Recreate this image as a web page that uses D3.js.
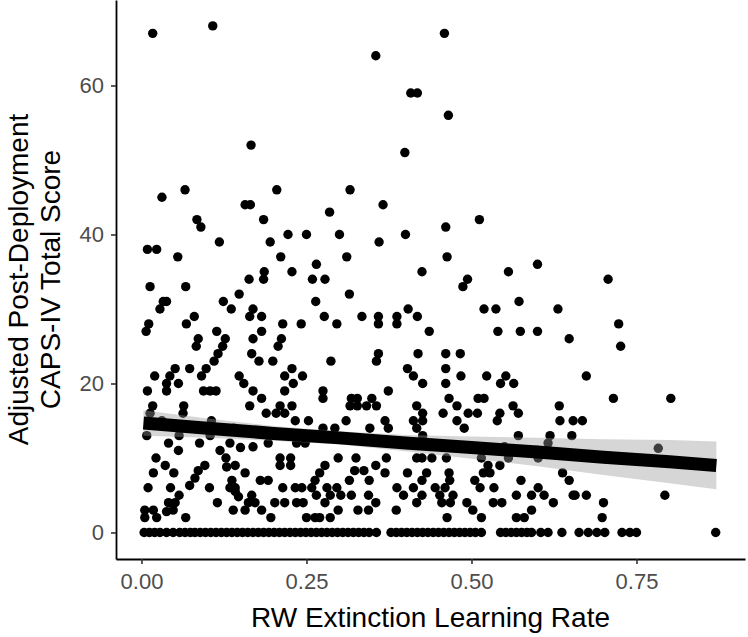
<!DOCTYPE html>
<html>
<head>
<meta charset="utf-8">
<script src="https://cdn.jsdelivr.net/npm/d3@7"></script>
<style>
    body { margin: 0; background: #fff; }
    text { font-family: "Liberation Sans", Arial, Helvetica, sans-serif; }
</style>
</head>
<body>
<svg width="748" height="637"></svg>
<script>
// tick values
const xTicks = [0, 0.25, 0.5, 0.75]
const yTicks = [0, 20, 40, 60]

// subjects with a score of exactly 0 (extinction learning rate only)
const zeroScoreRates = [0.004, 0.012, 0.020, 0.028, 0.038, 0.048, 0.058, 0.066, 0.074, 0.081, 0.089, 0.097, 0.105,
    0.113, 0.121, 0.129, 0.137, 0.145, 0.153, 0.161, 0.169, 0.177, 0.185, 0.193, 0.201, 0.209,
    0.217, 0.225, 0.233, 0.241, 0.249, 0.257, 0.265, 0.273, 0.281, 0.289, 0.297, 0.305, 0.313,
    0.321, 0.329, 0.337, 0.345, 0.356, 0.378, 0.386, 0.394, 0.402, 0.410, 0.418, 0.426, 0.434,
    0.442, 0.450, 0.458, 0.466, 0.474, 0.482, 0.490, 0.498, 0.506, 0.515, 0.544, 0.552, 0.560,
    0.568, 0.576, 0.584, 0.591, 0.605, 0.616, 0.637, 0.663, 0.677, 0.690, 0.702, 0.728, 0.740,
    0.750, 0.870]

// [learning rate, adjusted CAPS-IV score]
const scoredPoints = [
    [0.017,67],[0.108,68],[0.459,67],[0.355,64],[0.408,59],[0.418,59],[0.465,56],[0.166,52],[0.399,51],
    [0.066,46],[0.205,46],[0.316,46],[0.031,45],
    [0.157,44],[0.165,44],[0.366,44],[0.285,43],[0.084,42],[0.090,41],[0.185,42],[0.009,38],[0.023,38],
    [0.118,39],[0.195,39],[0.222,40],[0.250,40],[0.300,40],[0.360,39],[0.400,40],[0.055,37],[0.211,37],
    [0.311,37],[0.265,36],[0.186,35],[0.185,34],[0.163,34],[0.228,35],[0.259,34],[0.278,34],[0.425,35],
    [0.013,33],[0.067,33],[0.148,32],[0.315,32],[0.033,31],[0.038,31],[0.028,30],[0.124,31],[0.136,30],
    [0.169,30],[0.164,29],[0.182,29],[0.264,31],[0.277,29],[0.080,29],[0.068,28],[0.011,28],[0.007,27],
    [0.114,27],[0.182,27],[0.214,28],[0.242,28],[0.296,28],[0.334,29],[0.359,29],[0.359,28],[0.387,29],
    [0.387,28],[0.404,30],[0.418,29],[0.436,27],
    [0.461,41],[0.512,42],[0.463,37],[0.556,35],[0.600,36],[0.494,34],[0.487,33],[0.707,34],[0.572,31],
    [0.519,30],[0.537,30],[0.631,30],[0.723,28],[0.540,27],[0.574,27],[0.600,27],
    [0.086,26],[0.083,25],[0.127,26],[0.123,25],[0.116,24],[0.110,23],[0.169,26],[0.167,24],[0.178,23],
    [0.073,22],[0.098,22],[0.091,21],[0.020,21],[0.051,22],[0.043,21],[0.038,20],[0.056,20],[0.038,19],
    [0.009,19],[0.094,19],[0.104,19],[0.113,19],[0.148,21],[0.155,20],[0.169,19],[0.182,18],[0.164,17],
    [0.017,17],[0.013,16],[0.064,17],[0.063,16],[0.189,16],[0.106,15],[0.031,15],[0.008,13],[0.041,12],
    [0.057,13],[0.088,12],[0.104,13],[0.134,12],[0.150,11.4],[0.169,11.5],[0.192,12],
    [0.212,26],[0.207,25],[0.199,23],[0.287,23],[0.359,24],[0.356,23],[0.419,24],[0.228,22],[0.217,21],
    [0.244,21],[0.230,20],[0.217,19],[0.275,19],[0.275,18],[0.374,19],[0.403,22],[0.412,21],[0.426,20],
    [0.318,18],[0.327,18],[0.316,17],[0.327,17],[0.349,18],[0.341,17],[0.356,17],[0.210,17],[0.228,17],
    [0.204,16],[0.217,16],[0.233,15],[0.253,15],[0.310,15],[0.369,15],[0.374,14],[0.417,17],[0.412,15],
    [0.417,14],[0.275,14],[0.293,14],[0.346,14],[0.235,12],[0.248,12],
    [0.648,26],[0.461,24],[0.483,24],[0.461,22],[0.484,21],[0.461,20],[0.523,21],[0.552,21],[0.544,20],
    [0.564,20],[0.466,18],[0.510,18],[0.519,18],[0.478,17],[0.563,17],[0.571,16],[0.426,16],[0.426,15],
    [0.457,16],[0.495,16],[0.509,16],[0.543,16],[0.539,15],[0.478,15],[0.489,14],[0.633,17],[0.634,15],
    [0.654,15],[0.571,13],[0.619,13],[0.616,12],[0.652,13],[0.426,13],
    [0.726,25],[0.674,21],[0.715,18],[0.802,18],[0.668,15],[0.783,11.3],
    [0.056,11],[0.119,11],[0.128,10],[0.142,9],[0.129,8.8],[0.022,10],[0.036,9],[0.018,8],[0.049,8],
    [0.086,8.3],[0.081,7.3],[0.073,6.3],[0.096,9],[0.157,8],[0.180,7],[0.192,7],[0.137,7],[0.134,6],
    [0.142,6],[0.010,6],[0.044,6],[0.103,6],[0.057,5],[0.051,4],[0.041,4],[0.048,3],[0.038,2.8],[0.115,4],
    [0.142,5.5],[0.147,4.8],[0.167,5],[0.162,4],[0.172,4],[0.139,3],[0.157,3],[0.182,3],[0.005,3],
    [0.018,3],[0.005,2],[0.023,2],[0.067,2],
    [0.210,10],[0.226,10],[0.210,9],[0.226,9],[0.298,10],[0.325,10],[0.355,9],[0.369,8],[0.371,10],
    [0.403,8],[0.417,10],[0.278,9],[0.270,8],[0.263,7],[0.323,8.3],[0.337,8.3],[0.315,7],[0.345,7],
    [0.214,6],[0.233,6],[0.243,6],[0.258,6],[0.265,5],[0.281,6],[0.296,6],[0.286,5],[0.302,5],[0.318,5],
    [0.344,5],[0.387,6],[0.397,5],[0.412,6],[0.417,4],[0.202,4],[0.217,4],[0.235,4],[0.245,4],[0.278,4],
    [0.355,4],[0.196,2],[0.250,2],[0.263,2],[0.270,2],[0.286,2],[0.298,3],[0.328,3],[0.344,3],[0.386,3],
    [0.425,10],[0.440,10],[0.462,10],[0.515,10],[0.525,9],[0.543,9],[0.528,8],[0.518,8],[0.556,10],
    [0.601,10],[0.432,8],[0.425,7],[0.466,8],[0.467,7],[0.505,7],[0.513,6],[0.445,6],[0.460,6],[0.452,5],
    [0.472,5],[0.455,4],[0.468,4],[0.425,5],[0.534,6],[0.575,7],[0.568,5],[0.591,5],[0.601,6],[0.610,5],
    [0.638,8],[0.648,7],[0.654,5],[0.533,4],[0.546,4],[0.493,4],[0.502,3],[0.515,2],[0.624,4],[0.591,3],
    [0.463,2],[0.568,2],[0.580,2],
    [0.657,5],[0.674,5],[0.700,4],[0.698,2],[0.793,5],
    [0.012,14.5],[0.060,14],[0.140,14],[0.200,13.5],[0.320,12.5],[0.390,12.3],[0.450,11.6],[0.500,11.2],
    [0.550,11.5],[0.600,11]
]

// linear smoother: fit and 95% band
const smoothX   = [0.003, 0.1, 0.2, 0.3, 0.4, 0.5, 0.6, 0.7, 0.8, 0.871]
const smoothFit = [14.7, 14.0, 13.3, 12.7, 12.0, 11.4, 10.8, 10.1, 9.5, 9.0]
const smoothLo  = [13.0, 12.7, 12.3, 11.8, 10.9, 9.9, 8.9, 7.7, 6.6, 5.8]
const smoothHi  = [16.4, 15.3, 14.3, 13.6, 13.1, 12.9, 12.7, 12.5, 12.4, 12.2]

let svg = d3.select("svg"),
    margin = {top: 0, right: 3, bottom: 78, left: 116},
    width = +svg.attr("width") - margin.left - margin.right,
    height = +svg.attr("height") - margin.top - margin.bottom

let x = d3.scaleLinear()
    .domain([-0.0386, 0.9144])
    .range([0, width])

let y = d3.scaleLinear()
    .domain([-3.56, 71.48])
    .range([height, 0])

let g = svg.append("g")
    .attr("transform", "translate(" + margin.left + "," + margin.top + ")")

// points
let allPoints = zeroScoreRates.map(r => [r, 0]).concat(scoredPoints)
g.append("g").selectAll("circle").data(allPoints)
    .enter().append("circle")
    .attr("cx", d => x(d[0]))
    .attr("cy", d => y(d[1]))
    .attr("r", 4.7)
    .style("fill", "black")

// smoother band + line
let smooth = smoothX.map((v, i) => ({x: v, fit: smoothFit[i], lo: smoothLo[i], hi: smoothHi[i]}))

g.append("path")
    .datum(smooth)
    .attr("d", d3.area().x(d => x(d.x)).y0(d => y(d.lo)).y1(d => y(d.hi)))
    .style("fill", "#999999")
    .style("fill-opacity", 0.4)

g.append("path")
    .datum(smooth)
    .attr("d", d3.line().x(d => x(d.x)).y(d => y(d.fit)))
    .style("fill", "none")
    .style("stroke", "black")
    .style("stroke-width", 13)

// axes
let xAxis = d3.axisBottom(x).tickValues(xTicks).tickFormat(d3.format(".2f"))
    .tickSize(5).tickSizeOuter(0).tickPadding(9)
let yAxis = d3.axisLeft(y).tickValues(yTicks)
    .tickSize(5).tickSizeOuter(0).tickPadding(7)

let gx = g.append("g")
    .attr("transform", "translate(0," + height + ")")
    .call(xAxis)
let gy = g.append("g")
    .call(yAxis)

svg.selectAll(".domain").style("stroke", "black").style("stroke-width", 1.8)
svg.selectAll(".tick line").style("stroke", "#333333").style("stroke-width", 1.6)
svg.selectAll(".tick text")
    .style("fill", "#4d4d4d")
    .style("font-size", "22px")
    .style("font-family", "'Liberation Sans', Arial, sans-serif")

// axis titles
svg.append("text")
    .attr("x", margin.left + width / 2)
    .attr("y", 627)
    .attr("text-anchor", "middle")
    .style("font-size", "28px")
    .text("RW Extinction Learning Rate")

let yTitle = svg.append("text")
    .attr("transform", "translate(0," + (margin.top + height / 2) + ") rotate(-90)")
    .attr("text-anchor", "middle")
    .style("font-size", "28px")
yTitle.append("tspan").attr("x", 0).attr("y", 28).text("Adjusted Post-Deployment")
yTitle.append("tspan").attr("x", 0).attr("y", 60).text("CAPS-IV Total Score")
</script>
</body>
</html>
